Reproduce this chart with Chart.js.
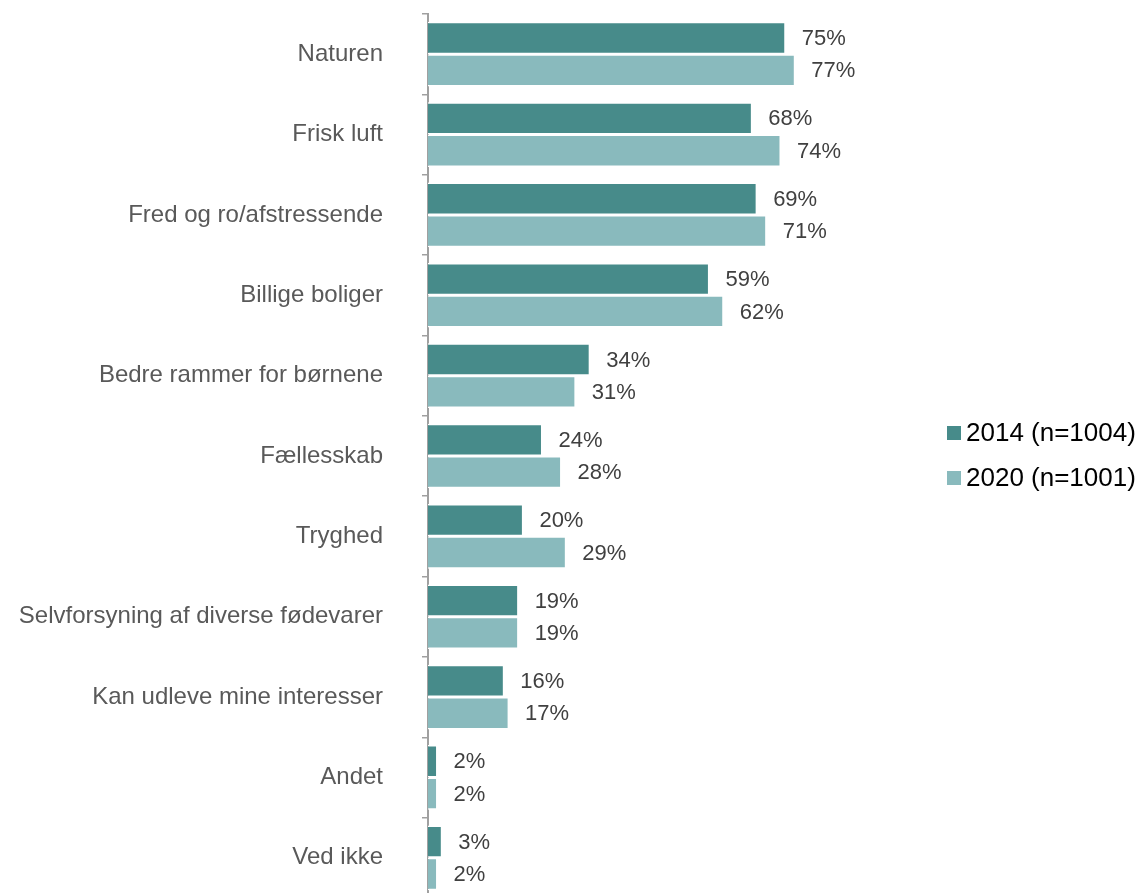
<!DOCTYPE html>
<html>
<head>
<meta charset="utf-8">
<script src="https://cdn.jsdelivr.net/npm/chart.js@4"></script>
<style>
  html, body { margin: 0; padding: 0; background: #fff; overflow: hidden; }
  #wrap { position: relative; width: 1143px; height: 898px; }
</style>
</head>
<body>
<div id="wrap"><canvas id="c"></canvas></div>
<script>
const categories = ["Naturen", "Frisk luft", "Fred og ro/afstressende", "Billige boliger",
  "Bedre rammer for børnene", "Fællesskab", "Tryghed", "Selvforsyning af diverse fødevarer",
  "Kan udleve mine interesser", "Andet", "Ved ikke"];
const values2014 = [75, 68, 69, 59, 34, 24, 20, 19, 16, 2, 3];
const values2020 = [77, 74, 71, 62, 31, 28, 29, 19, 17, 2, 2];
const seriesLabels = ["2014 (n=1004)", "2020 (n=1001)"];

const FONT = "'Liberation Sans', Arial, sans-serif";

const valueLabels = {
  id: 'valueLabels',
  afterDatasetsDraw(chart) {
    const ctx = chart.ctx;
    ctx.save();
    ctx.font = "22px " + FONT;
    ctx.fillStyle = '#404040';
    ctx.textAlign = 'left';
    ctx.textBaseline = 'middle';
    chart.data.datasets.forEach((ds, di) => {
      const meta = chart.getDatasetMeta(di);
      meta.data.forEach((bar, i) => {
        ctx.fillText(ds.data[i] + '%', bar.x + 16, bar.y + 1);
      });
    });
    ctx.restore();
  }
};

const sideLegend = {
  id: 'sideLegend',
  afterDraw(chart) {
    const ctx = chart.ctx;
    ctx.save();
    ctx.font = "26px " + FONT;
    ctx.textAlign = 'left';
    ctx.textBaseline = 'middle';
    chart.data.datasets.forEach((ds, di) => {
      const y = 433 + di * 45;
      ctx.fillStyle = ds.backgroundColor;
      ctx.fillRect(947, y - 7, 14, 14);
      ctx.fillStyle = '#000000';
      ctx.fillText(ds.label, 966, y + 1);
    });
    ctx.restore();
  }
};

new Chart(document.getElementById('c'), {
  type: 'bar',
  data: {
    labels: categories,
    datasets: [
      { label: seriesLabels[0], data: values2014, backgroundColor: '#478B8A',
        borderColor: '#ffffff', borderWidth: 1.5 },
      { label: seriesLabels[1], data: values2020, backgroundColor: '#89BABD',
        borderColor: '#ffffff', borderWidth: 1.5 }
    ]
  },
  options: {
    indexAxis: 'y',
    responsive: true,
    maintainAspectRatio: false,
    animation: false,
    datasets: { bar: { categoryPercentage: 0.805, barPercentage: 1 } },
    layout: { padding: { top: 14, right: 238, bottom: 0, left: 0 } },
    plugins: { legend: { display: false }, tooltip: { enabled: false } },
    scales: {
      x: { display: false, min: 0, max: 100 },
      y: {
        afterFit(scale) { scale.width = 428; scale.paddingTop = 0; scale.paddingBottom = 0; },
        grid: { drawOnChartArea: false, drawTicks: true, tickLength: 6, color: '#A0A0A0', lineWidth: 1.5, offset: true },
        border: { display: true, color: '#A0A0A0', width: 2 },
        ticks: { color: '#595959', padding: 39, font: { family: FONT, size: 24 } }
      }
    }
  },
  plugins: [valueLabels, sideLegend]
});
</script>
</body>
</html>
